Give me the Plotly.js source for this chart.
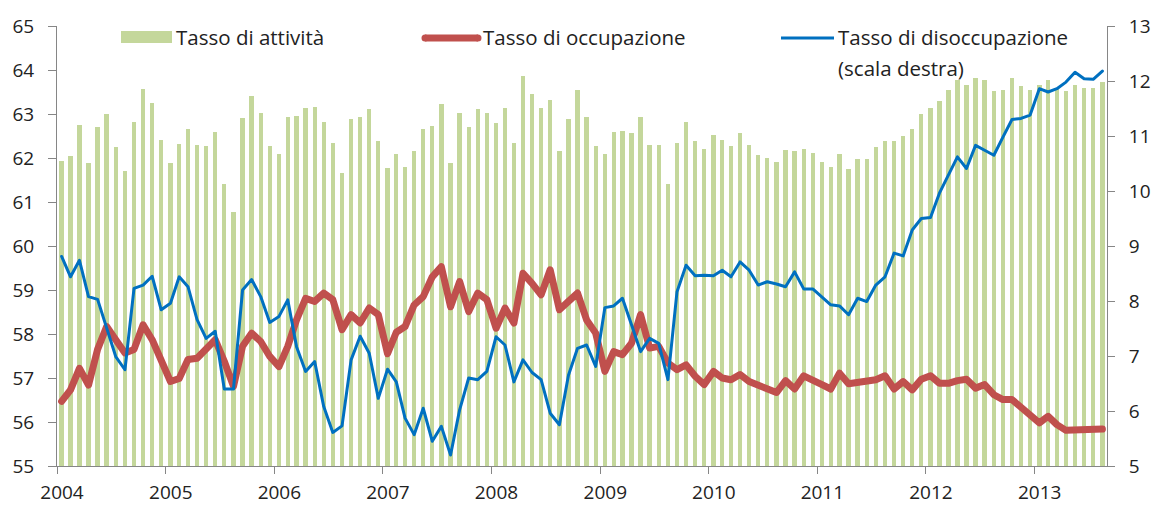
<!DOCTYPE html>
<html>
<head>
<meta charset="utf-8">
<script src="https://cdn.plot.ly/plotly-3.0.1.min.js"></script>
<style>
html,body{margin:0;padding:0;background:#fff;}
#chart{width:1157px;height:506px;}
.scatterlayer path.js-line{stroke-linejoin:round;stroke-linecap:round;}
</style>
</head>
<body>
<div id="chart"></div>
<script>
// Monthly data, Jan 2004 - Aug 2013
const startYear = 2004;
const nMonths = 116;
const months = [];
for (let i = 0; i < nMonths; i++) {
  const y = startYear + Math.floor(i / 12);
  const m = (i % 12) + 1;
  months.push(y + '-' + (m < 10 ? '0' + m : m) + '-01');
}

const tassoAttivita = [
  61.94, 62.04, 62.76, 61.88, 62.70, 62.99, 62.24, 61.71, 62.82, 63.57, 63.25, 62.41,
  61.88, 62.32, 62.65, 62.29, 62.27, 62.58, 61.42, 60.78, 62.91, 63.41, 63.02, 62.27,
  62.09, 62.93, 62.96, 63.14, 63.17, 62.82, 62.35, 61.65, 62.88, 62.93, 63.11, 62.38,
  61.77, 62.09, 61.80, 62.15, 62.67, 62.73, 63.22, 61.88, 63.02, 62.70, 63.11, 63.02,
  62.79, 63.14, 62.35, 63.87, 63.46, 63.14, 63.31, 62.15, 62.88, 63.54, 62.93, 62.27,
  62.09, 62.59, 62.62, 62.56, 62.93, 62.29, 62.29, 61.42, 62.35, 62.82, 62.38, 62.21,
  62.53, 62.41, 62.27, 62.56, 62.29, 62.06, 62.00, 61.91, 62.18, 62.15, 62.21, 62.12,
  61.91, 61.80, 62.09, 61.74, 61.97, 61.97, 62.24, 62.38, 62.38, 62.50, 62.67, 63.00,
  63.14, 63.29, 63.54, 63.78, 63.66, 63.81, 63.78, 63.52, 63.54, 63.81, 63.63, 63.54,
  63.66, 63.78, 63.57, 63.52, 63.66, 63.60, 63.60, 63.72
];

const tassoOccupazione = [
  56.47, 56.73, 57.22, 56.84, 57.65, 58.17, 57.87, 57.57, 57.65, 58.21, 57.87, 57.42,
  56.92, 56.99, 57.42, 57.45, 57.68, 57.87, 57.38, 56.81, 57.72, 58.02, 57.83, 57.49,
  57.26, 57.72, 58.32, 58.81, 58.74, 58.93, 58.78, 58.10, 58.44, 58.25, 58.59, 58.44,
  57.55, 58.04, 58.17, 58.66, 58.85, 59.30, 59.53, 58.62, 59.19, 58.51, 58.93, 58.78,
  58.13, 58.59, 58.25, 59.38, 59.15, 58.89, 59.46, 58.55, 58.74, 58.93, 58.32, 58.02,
  57.15, 57.60, 57.53, 57.79, 58.44, 57.68, 57.72, 57.34, 57.19, 57.30, 57.04, 56.85,
  57.15, 57.00, 56.96, 57.08, 56.92, 56.85, 56.77, 56.67, 56.94, 56.75, 57.05, 56.97,
  56.85, 56.75, 57.11, 56.87, 56.90, 56.96, 56.96, 57.05, 56.75, 56.92, 56.73, 56.97,
  57.05, 56.88, 56.88, 56.94, 56.97, 56.77, 56.85, 56.62, 56.51, 56.51, 56.34, 56.19,
  55.98, 56.13, 55.94, 55.81, 55.81, 55.84, 55.84, 55.84
];

const tassoDisoccupazione = [
  8.81, 8.44, 8.74, 8.08, 8.03, 7.50, 6.99, 6.75, 8.23, 8.29, 8.45, 7.84,
  7.96, 8.44, 8.26, 7.66, 7.32, 7.45, 6.40, 6.40, 8.20, 8.39, 8.08, 7.61,
  7.72, 8.02, 7.17, 6.72, 6.90, 6.08, 5.61, 5.73, 6.93, 7.36, 7.05, 6.23,
  6.76, 6.53, 5.87, 5.57, 6.05, 5.45, 5.72, 5.20, 6.02, 6.60, 6.57, 6.72,
  7.35, 7.20, 6.53, 6.93, 6.70, 6.57, 5.96, 5.75, 6.65, 7.14, 7.20, 6.81,
  7.88, 7.91, 8.05, 7.57, 7.08, 7.32, 7.23, 6.57, 8.17, 8.65, 8.46, 8.47,
  8.46, 8.56, 8.44, 8.71, 8.56, 8.29, 8.35, 8.31, 8.26, 8.53, 8.22, 8.22,
  8.08, 7.93, 7.91, 7.75, 8.05, 7.99, 8.29, 8.44, 8.87, 8.82, 9.29, 9.50,
  9.52, 9.96, 10.29, 10.62, 10.41, 10.83, 10.74, 10.65, 10.98, 11.30, 11.32, 11.38,
  11.86, 11.80, 11.86, 11.98, 12.16, 12.04, 12.03, 12.18
];

const legendLabels = ['Tasso di attività', 'Tasso di occupazione', 'Tasso di disoccupazione', '(scala destra)'];

const GREEN = '#c4d79b', RED = '#c0504d', BLUE = '#0070c0', AXIS = '#868686', TXT = '#222222';
const DAY = 86400000;

const traces = [
  {
    type: 'bar', name: legendLabels[0], x: months, y: tassoAttivita,
    xperiod: 'M1', xperiodalignment: 'middle',
    width: 0.48 * 30.44 * DAY,
    marker: {color: GREEN, line: {width: 0}},
    yaxis: 'y', hoverinfo: 'x+y'
  },
  {
    type: 'scatter', mode: 'lines', name: legendLabels[1], x: months, y: tassoOccupazione,
    xperiod: 'M1', xperiodalignment: 'middle',
    line: {color: RED, width: 7}, yaxis: 'y'
  },
  {
    type: 'scatter', mode: 'lines', name: legendLabels[2], x: months, y: tassoDisoccupazione,
    xperiod: 'M1', xperiodalignment: 'middle',
    line: {color: BLUE, width: 3}, yaxis: 'y2'
  }
];

// pixel helpers for the hand-drawn legend (plot area: x 57..1107, y 26..466)
const PL = 57, PW = 1050, PT = 26, PH = 440;
const px = v => (v - PL) / PW;
const py = v => (PT + PH - v) / PH;

const legendFont = {family: 'Open Sans, sans-serif', size: 20.5, color: TXT};

const layout = {
  width: 1157, height: 506,
  margin: {l: PL, r: 1157 - PL - PW, t: PT, b: 506 - PT - PH},
  paper_bgcolor: '#ffffff', plot_bgcolor: '#ffffff',
  font: {family: 'Open Sans, sans-serif', size: 19, color: TXT},
  showlegend: false,
  bargap: 0,
  xaxis: {
    type: 'date', range: ['2004-01-01', '2013-09-01'],
    tick0: '2004-01-01', dtick: 'M12', tickformat: '%Y',
    ticks: 'outside', ticklen: 7, tickcolor: AXIS, tickwidth: 1,
    showline: true, linecolor: AXIS, linewidth: 1,
    showgrid: false, zeroline: false,
    ticklabelshift: 5, ticklabelstandoff: 2,
    tickfont: {size: 19, color: TXT}
  },
  yaxis: {
    range: [55, 65], dtick: 1, tick0: 55,
    ticks: 'outside', ticklen: 8, tickcolor: AXIS, tickwidth: 1,
    showline: true, linecolor: AXIS, linewidth: 1,
    showgrid: false, zeroline: false,
    ticklabelstandoff: 10,
    tickfont: {size: 19, color: TXT}
  },
  yaxis2: {
    range: [5, 13], dtick: 1, tick0: 5, overlaying: 'y', side: 'right',
    ticks: 'outside', ticklen: 7, tickcolor: AXIS, tickwidth: 1,
    showline: true, linecolor: AXIS, linewidth: 1,
    showgrid: false, zeroline: false,
    ticklabelstandoff: 10,
    tickfont: {size: 19, color: TXT}
  },
  shapes: [
    {type: 'rect', xref: 'paper', yref: 'paper', x0: px(121), x1: px(172), y0: py(43), y1: py(31),
     fillcolor: GREEN, line: {width: 0}},
    {type: 'line', xref: 'paper', yref: 'paper', x0: px(425), x1: px(478), y0: py(38), y1: py(38),
     line: {color: RED, width: 7}},
    {type: 'circle', xref: 'paper', yref: 'paper', xsizemode: 'pixel', ysizemode: 'pixel',
     xanchor: px(425), yanchor: py(38), x0: -3.5, x1: 3.5, y0: -3.5, y1: 3.5,
     fillcolor: RED, line: {width: 0}},
    {type: 'circle', xref: 'paper', yref: 'paper', xsizemode: 'pixel', ysizemode: 'pixel',
     xanchor: px(478), yanchor: py(38), x0: -3.5, x1: 3.5, y0: -3.5, y1: 3.5,
     fillcolor: RED, line: {width: 0}},
    {type: 'line', xref: 'paper', yref: 'paper', x0: px(781), x1: px(834), y0: py(38), y1: py(38),
     line: {color: BLUE, width: 3}}
  ],
  annotations: [
    {xref: 'paper', yref: 'paper', x: px(174), y: py(37), xanchor: 'left', yanchor: 'middle',
     text: legendLabels[0], showarrow: false, font: legendFont},
    {xref: 'paper', yref: 'paper', x: px(481), y: py(37), xanchor: 'left', yanchor: 'middle',
     text: legendLabels[1], showarrow: false, font: legendFont},
    {xref: 'paper', yref: 'paper', x: px(836), y: py(37), xanchor: 'left', yanchor: 'middle',
     text: legendLabels[2], showarrow: false, font: legendFont},
    {xref: 'paper', yref: 'paper', x: px(836), y: py(68), xanchor: 'left', yanchor: 'middle',
     text: legendLabels[3], showarrow: false, font: legendFont}
  ]
};

Plotly.newPlot('chart', traces, layout, {staticPlot: true, displayModeBar: false});
</script>
</body>
</html>
